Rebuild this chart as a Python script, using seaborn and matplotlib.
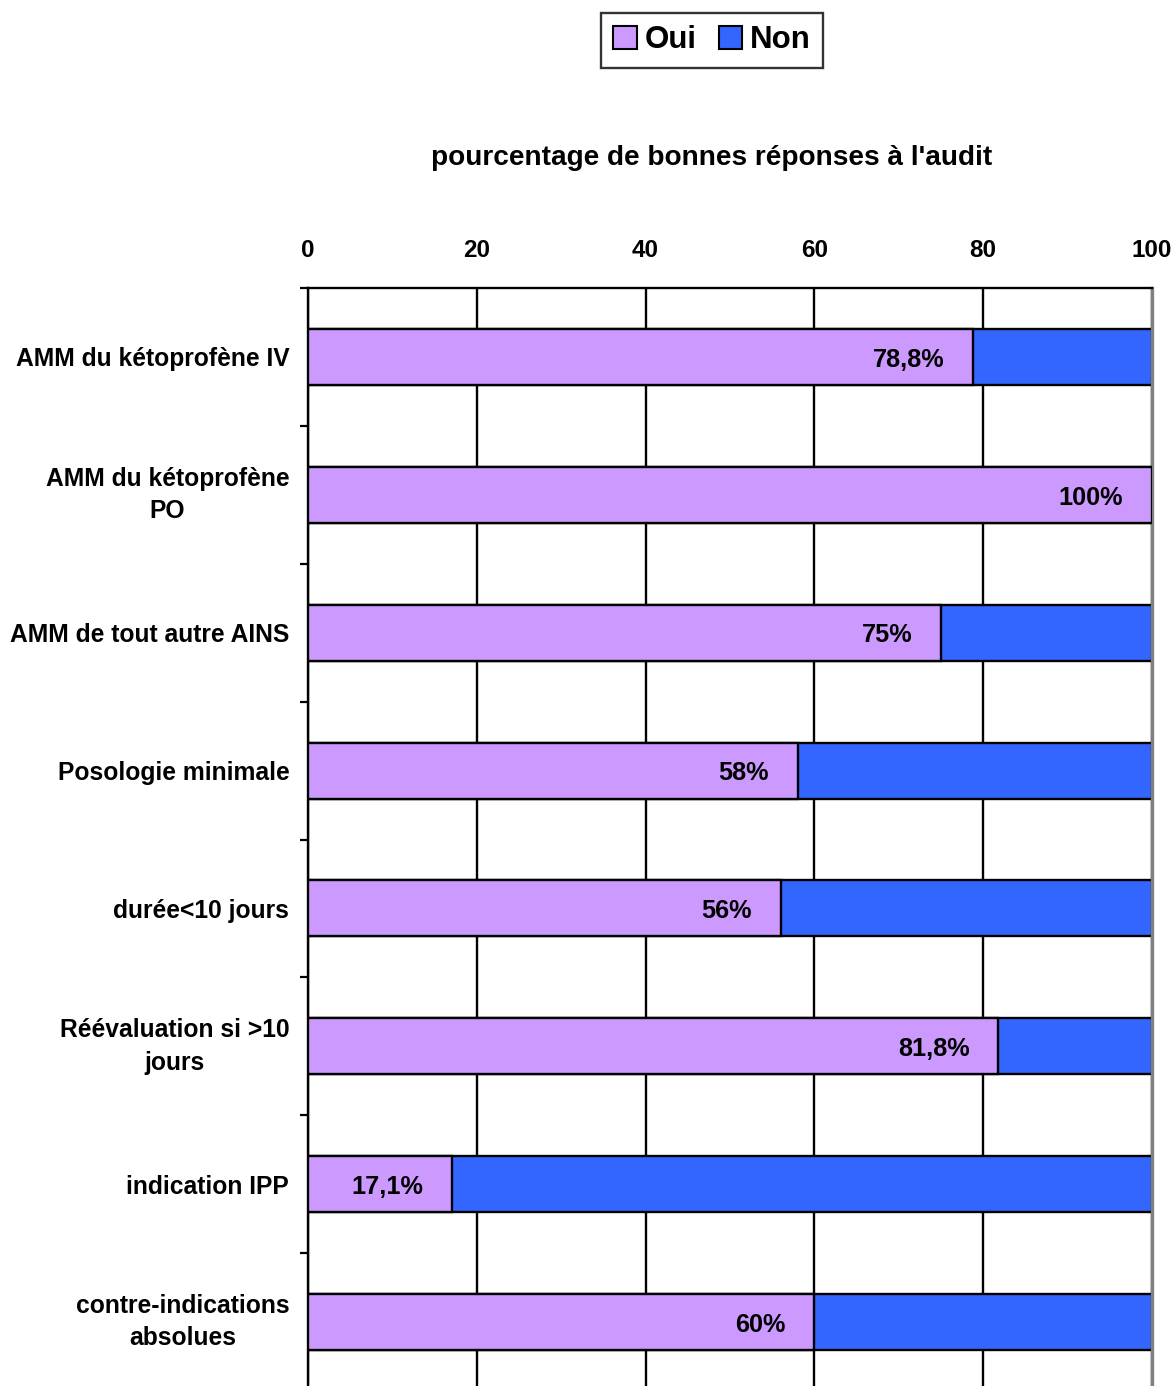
import matplotlib
matplotlib.use('Agg')

import pandas as pd
import matplotlib.pyplot as plt
import seaborn as sns
from matplotlib.patches import Patch

# data
categories = ["AMM du kétoprofène IV", "AMM du kétoprofène\nPO", "AMM de tout autre AINS",
              "Posologie minimale", "durée<10 jours", "Réévaluation si >10\njours",
              "indication IPP", "contre-indications\nabsolues"]
oui = [78.8, 100, 75, 58, 56, 81.8, 17.1, 60]
non = [21.2, 0, 25, 42, 44, 18.2, 82.9, 40]
value_labels = ["78,8%", "100%", "75%", "58%", "56%", "81,8%", "17,1%", "60%"]
xticks = [0, 20, 40, 60, 80, 100]

COL_OUI = '#CC99FF'
COL_NON = '#3366FF'

sns.set_style("white")
plt.rcParams['font.family'] = ['Liberation Sans', 'DejaVu Sans']
plt.rcParams['font.weight'] = 'bold'
plt.rcParams['text.color'] = 'black'
plt.rcParams['xtick.color'] = 'black'
plt.rcParams['ytick.color'] = 'black'

df = pd.DataFrame({'cat': categories, 'oui': oui, 'non': non})
df['total'] = df['oui'] + df['non']

fig = plt.figure(figsize=(11.76, 13.86), dpi=100)
ax = fig.add_axes([308/1176, -0.0036, 844/1176, 0.7958])

# stacked bars: full bar in "Non" colour, "Oui" drawn on top
sns.barplot(data=df, x='total', y='cat', orient='h', color=COL_NON, width=0.406,
            edgecolor='black', linewidth=1.7, saturation=1, ax=ax, zorder=2)
sns.barplot(data=df, x='oui', y='cat', orient='h', color=COL_OUI, width=0.406,
            edgecolor='black', linewidth=1.7, saturation=1, ax=ax, zorder=3)

for i, (v, lab) in enumerate(zip(oui, value_labels)):
    ax.text(v - 3.4, i + 0.02, lab, ha='right', va='center', fontsize=18.2,
            fontweight='bold', color='black', zorder=4)

ax.set_xlim(0, 100)
ax.set_ylim(len(categories) - 0.5, -0.5)
ax.set_xlabel('')
ax.set_ylabel('')

# x axis on top
ax.xaxis.tick_top()
ax.set_xticks(xticks)
ax.set_xticklabels([str(t) for t in xticks], fontsize=17.5, fontweight='bold')
ax.tick_params(axis='x', length=0, pad=18.5)
ax.set_axisbelow(True)
ax.grid(axis='x', color='black', linewidth=1.7)
ax.grid(axis='y', visible=False)

# y labels at bar centres, tick marks between bars
ax.set_yticks(range(len(categories)))
ax.set_yticklabels(categories, fontsize=17.7, fontweight='bold',
                   multialignment='center', linespacing=1.45)
for t in ax.get_yticklabels():
    if '\n' in t.get_text():
        t.set_va('center')
ax.set_yticks([i - 0.5 for i in range(len(categories) + 1)], minor=True)
ax.tick_params(axis='y', which='major', length=0, pad=13.5)
ax.tick_params(axis='y', which='minor', length=6, width=1.6, color='black', left=True)

for side in ['top', 'left']:
    ax.spines[side].set_color('black')
    ax.spines[side].set_linewidth(1.7)
ax.spines['right'].set_color('#808080')
ax.spines['right'].set_linewidth(2.4)
ax.spines['bottom'].set_visible(False)

fig.text(712/1176, 1 - 158/1386, "pourcentage de bonnes réponses à l'audit",
         ha='center', va='center', fontsize=20.2, fontweight='bold')

handles = [Patch(facecolor=COL_OUI, edgecolor='black', linewidth=1.5, label='Oui'),
           Patch(facecolor=COL_NON, edgecolor='black', linewidth=1.5, label='Non')]
leg = fig.legend(handles=handles, loc='center', bbox_to_anchor=(712/1176, 1 - 40/1386),
                 ncol=2, frameon=True, fancybox=False,
                 handlelength=0.75, handleheight=0.75, handletextpad=0.25,
                 columnspacing=0.7, borderpad=0.4, borderaxespad=0,
                 prop={'weight': 'bold', 'size': 22.5})
leg.get_frame().set_edgecolor('black')
leg.get_frame().set_linewidth(1.7)

fig.savefig('out.png', dpi=100)
